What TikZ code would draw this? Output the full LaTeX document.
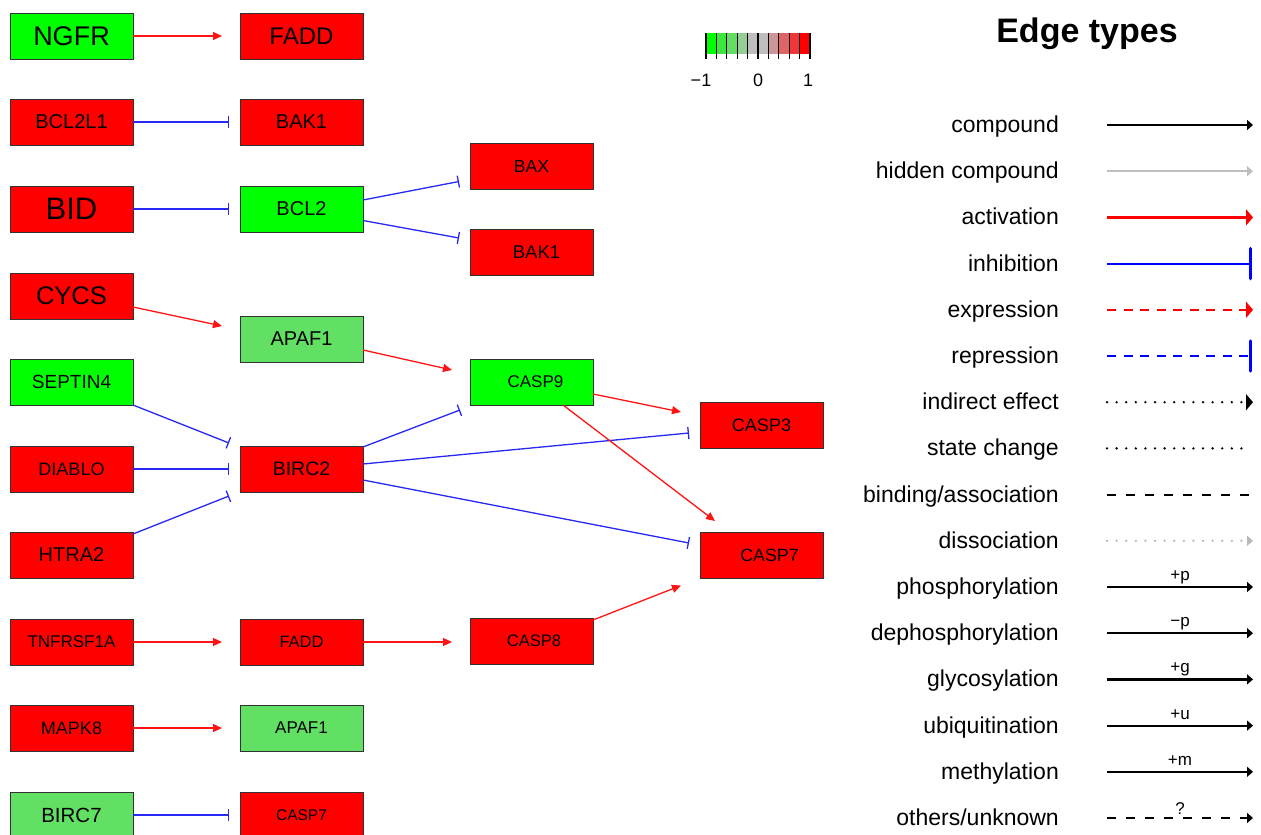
\documentclass[tikz,border=0pt]{standalone}
\usepackage{fontspec}
\setmainfont{Liberation Sans}
\usetikzlibrary{arrows.meta,calc}
\definecolor{gr}{RGB}{0,255,0}
\definecolor{lgr}{RGB}{97,224,100}
\definecolor{rd}{RGB}{255,0,0}
\definecolor{eblue}{RGB}{40,40,245}
\definecolor{ered}{RGB}{255,20,20}
\definecolor{bord}{RGB}{50,50,50}
\definecolor{lgray}{RGB}{190,190,190}
\definecolor{llgray}{RGB}{185,185,185}
\definecolor{cbA}{RGB}{0,255,0}
\definecolor{cbB}{RGB}{60,230,60}
\definecolor{cbC}{RGB}{100,220,100}
\definecolor{cbD}{RGB}{150,205,150}
\definecolor{cbE}{RGB}{190,190,190}
\definecolor{cbF}{RGB}{190,190,190}
\definecolor{cbG}{RGB}{205,150,150}
\definecolor{cbH}{RGB}{225,100,100}
\definecolor{cbI}{RGB}{240,55,55}
\definecolor{cbJ}{RGB}{255,0,0}
\newcommand\fsz[1]{\fontsize{#1}{#1}\selectfont}
\begin{document}
\begin{tikzpicture}[x=1pt,y=-1pt,
  gene/.style={draw=bord, line width=1pt, minimum width=123pt, minimum height=46pt, inner sep=0pt, outer sep=0pt},
  up/.style={gene, fill=rd},
  dn/.style={gene, fill=gr},
  ldn/.style={gene, fill=lgr},
  act/.style={ered, line width=1.3pt, -{Triangle[length=9pt,width=8pt]}},
  inh/.style={eblue, line width=1.3pt, -{Bar[width=12pt]}},
  lab/.style={anchor=base east, font=\fsz{23}, inner sep=0pt},
  mod/.style={anchor=base, font=\fsz{17}, inner sep=0pt},
  lg/.style={line width=2.2pt},
  smallhead/.style={-{Triangle[length=6pt,width=10pt]}},
  bighead/.style={-{Triangle[length=7pt,width=16pt]}},
  barhead/.style={-{Bar[width=30pt,line width=3.5pt,round]}},
  dots/.style={line width=2.6pt, line cap=round, dash pattern=on 0pt off 9.6pt},
  dash1/.style={dash pattern=on 9pt off 7.5pt},
  dash2/.style={dash pattern=on 9pt off 10pt},
]
\useasboundingbox (0,0) rectangle (1261,835);
\fill[white] (0,0) rectangle (1261,835);

% genes
\node[dn, font=\fsz{27}] (NGFR) at (71.5,36) {NGFR};
\node[up, font=\fsz{24}] (FADDa) at (301.5,36) {FADD};
\node[up, font=\fsz{20}] (BCL2L1) at (71.5,122) {BCL2L1};
\node[up, font=\fsz{20}] (BAK1a) at (301.5,122) {BAK1};
\node[up, font=\fsz{31}] (BID) at (71.5,209) {BID};
\node[dn, font=\fsz{20}] (BCL2) at (301.5,209) {BCL2};
\node[up, font=\fsz{17.5}] (BAX) at (531.5,166) {BAX};
\node[up, font=\fsz{18.5}] (BAK1b) at (531.5,252) {\hspace*{10pt}BAK1};
\node[up, font=\fsz{25.5}] (CYCS) at (71.5,296) {CYCS};
\node[ldn, font=\fsz{20}] (APAF1a) at (301.5,339) {APAF1};
\node[dn, font=\fsz{19}] (SEPTIN4) at (71.5,382) {SEPTIN4};
\node[dn, font=\fsz{17}] (CASP9) at (531.5,382) {\hspace*{8pt}CASP9};
\node[up, font=\fsz{18}] (DIABLO) at (71.5,469) {DIABLO};
\node[up, font=\fsz{19.5}] (BIRC2) at (301.5,469) {BIRC2};
\node[up, font=\fsz{18}] (CASP3) at (761.5,425.5) {CASP3};
\node[up, font=\fsz{20}] (HTRA2) at (71.5,555) {HTRA2};
\node[up, font=\fsz{17.8}] (CASP7a) at (761.5,555) {\hspace*{16pt}CASP7};
\node[up, font=\fsz{17}] (TNFRSF1A) at (71.5,642) {TNFRSF1A};
\node[up, font=\fsz{16.5}] (FADDb) at (301.5,642) {FADD};
\node[up, font=\fsz{16.6}] (CASP8) at (531.5,641) {\hspace*{5pt}CASP8};
\node[up, font=\fsz{18}] (MAPK8) at (71.5,728) {MAPK8};
\node[ldn, font=\fsz{17}] (APAF1b) at (301.5,728) {APAF1};
\node[ldn, font=\fsz{20.5}] (BIRC7) at (71.5,815) {BIRC7};
\node[up, font=\fsz{15.5}] (CASP7b) at (301.5,815) {CASP7};

% edges
\draw[act] (NGFR.east) -- ($(FADDa.west)+(-18,0)$);
\draw[inh] (BCL2L1.east) -- ($(BAK1a.west)+(-11,0)$);
\draw[inh] (BID.east) -- ($(BCL2.west)+(-11,0)$);
\draw[inh] ($(BCL2.east)+(0,-9)$) -- ($(BAX.west)+(-11,15.5)$);
\draw[inh] ($(BCL2.east)+(0,11.5)$) -- ($(BAK1b.west)+(-11,-14)$);
\draw[act] ($(CYCS.east)+(0,11)$) -- ($(APAF1a.west)+(-18,-13)$);
\draw[act] ($(APAF1a.east)+(0,11)$) -- ($(CASP9.west)+(-18,-12)$);
\draw[inh] (SEPTIN4.south east) -- ($(BIRC2.west)+(-11,-26)$);
\draw[inh] (DIABLO.east) -- ($(BIRC2.west)+(-11,0)$);
\draw[inh] ($(HTRA2.east)+(0,-21)$) -- ($(BIRC2.west)+(-11,27)$);
\draw[inh] ($(BIRC2.east)+(0,-22)$) -- ($(CASP9.west)+(-10,28)$);
\draw[inh] ($(BIRC2.east)+(0,-5)$) -- ($(CASP3.west)+(-11,7.5)$);
\draw[inh] ($(BIRC2.east)+(0,11)$) -- ($(CASP7a.west)+(-11,-12)$);
\draw[act] ($(CASP9.east)+(0,12)$) -- ($(CASP3.west)+(-19,-13.5)$);
\draw[act] ($(CASP9.south)+(31.5,0)$) -- ($(CASP7a.north west)+(15,-11)$);
\draw[act] ($(CASP8.east)+(0,-21)$) -- ($(CASP7a.west)+(-19,30.5)$);
\draw[act] (TNFRSF1A.east) -- ($(FADDb.west)+(-18,0)$);
\draw[act] (FADDb.east) -- ($(CASP8.west)+(-18,1)$);
\draw[act] (MAPK8.east) -- ($(APAF1b.west)+(-18,0)$);
\draw[inh] (BIRC7.east) -- ($(CASP7b.west)+(-11,0)$);

% colour bar
\foreach \c [count=\i from 0] in {cbA,cbB,cbC,cbD,cbE,cbF,cbG,cbH,cbI,cbJ}
  \fill[\c] (706+10.4*\i,33) rectangle ++(10.4,21);
\foreach \i in {0,...,10}
  \draw[line width=1.2pt] (706+10.4*\i,33) -- ++(0,26);
\node[font=\fsz{18}] (cbm) at (701,80) {−1};
\node[font=\fsz{18}] (cbz) at (758,80) {0};
\node[font=\fsz{18}] (cbp) at (808,80) {1};

% legend
\node[font=\bfseries\fsz{34}] (title) at (1087,34) {Edge types};
\node[lab] (l0) at (1059,132.5) {compound};
\node[lab] (l1) at (1059,178.7) {hidden compound};
\node[lab] (l2) at (1059,224.9) {activation};
\node[lab] (l3) at (1059,271.1) {inhibition};
\node[lab] (l4) at (1059,317.3) {expression};
\node[lab] (l5) at (1059,363.5) {repression};
\node[lab] (l6) at (1059,409.7) {indirect effect};
\node[lab] (l7) at (1059,455.9) {state change};
\node[lab] (l8) at (1059,502.1) {binding/association};
\node[lab] (l9) at (1059,548.3) {dissociation};
\node[lab] (l10) at (1059,594.5) {phosphorylation};
\node[lab] (l11) at (1059,640.7) {dephosphorylation};
\node[lab] (l12) at (1059,686.9) {glycosylation};
\node[lab] (l13) at (1059,733.1) {ubiquitination};
\node[lab] (l14) at (1059,779.3) {methylation};
\node[lab] (l15) at (1059,825.5) {others/unknown};

\draw[lg, black, smallhead] (1107,125) -- (1253,125);
\draw[lg, lgray, smallhead] (1107,171.2) -- (1253,171.2);
\draw[lg, rd, bighead] (1107,217.4) -- (1253,217.4);
\draw[lg, blue, barhead] (1107,263.6) -- (1252,263.6);
\draw[lg, rd, dash1, bighead] (1107,309.8) -- (1253,309.8);
\draw[lg, blue, dash1, barhead] (1107,356) -- (1252,356);
\draw[lg, black, dots, bighead] (1107,402.2) -- (1253,402.2);
\draw[lg, black, dots] (1107,448.4) -- (1244,448.4);
\draw[lg, black, dash2] (1107,494.6) -- (1253,494.6);
\draw[lg, llgray, dots, smallhead] (1107,540.8) -- (1253,540.8);
\draw[lg, black, smallhead] (1107,587) -- (1253,587);
\draw[lg, black, smallhead] (1107,633.2) -- (1253,633.2);
\draw[lg, black, smallhead] (1107,679.4) -- (1253,679.4);
\draw[lg, black, smallhead] (1107,725.6) -- (1253,725.6);
\draw[lg, black, smallhead] (1107,771.8) -- (1253,771.8);
\draw[lg, black, dash2, smallhead] (1107,818) -- (1253,818);
\node[mod] (m10) at (1180,580.5) {+p};
\node[mod] (m11) at (1180,626.7) {−p};
\node[mod] (m12) at (1180,672.9) {+g};
\node[mod] (m13) at (1180,719.1) {+u};
\node[mod] (m14) at (1180,765.3) {+m};
\node[mod] (m15) at (1180,814) {?};
\end{tikzpicture}
\end{document}
